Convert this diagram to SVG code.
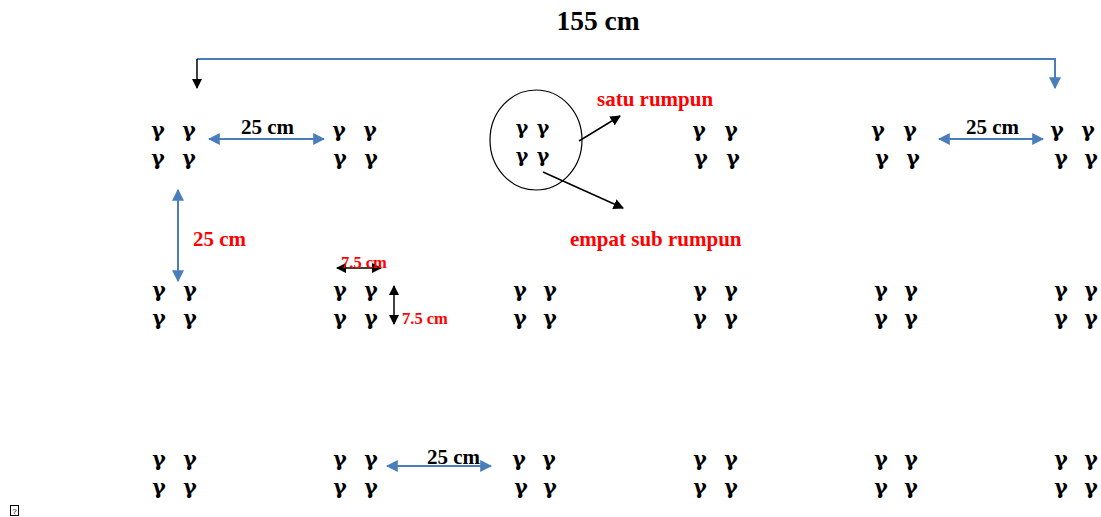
<svg xmlns="http://www.w3.org/2000/svg" width="1101" height="517" viewBox="0 0 1101 517">
<defs>
<style>
.g{font-family:"DejaVu Serif",serif;font-weight:bold;font-size:20.5px;fill:#000;text-anchor:middle}
.gs{font-family:"DejaVu Serif",serif;font-weight:bold;font-size:19px;fill:#000;text-anchor:middle}
.lb{font-family:"Liberation Serif","Times New Roman",serif;font-weight:bold;font-size:21px;fill:#000}
.lr{font-family:"Liberation Serif","Times New Roman",serif;font-weight:bold;font-size:21px;fill:#ff0000}
.ls{font-family:"Liberation Serif","Times New Roman",serif;font-weight:bold;font-size:16.5px;fill:#ff0000}
.blue{stroke:#4A7EBB;stroke-width:2;fill:none}
.blk{stroke:#000;stroke-width:1.5;fill:none}
</style>
<marker id="ab" viewBox="0 0 10 10" refX="9" refY="5" markerWidth="6" markerHeight="6" orient="auto-start-reverse" markerUnits="strokeWidth"><path d="M0,0 L10,5 L0,10 z" fill="#4A7EBB"/></marker>
<marker id="ak" viewBox="0 0 10 10" refX="9" refY="5" markerWidth="7" markerHeight="7" orient="auto-start-reverse" markerUnits="strokeWidth"><path d="M0,0 L10,5 L0,10 z" fill="#000"/></marker>
</defs>
<rect width="1101" height="517" fill="#fff"/>
<text x="598" y="30" class="lb" style="font-size:27.5px" text-anchor="middle">155 cm</text>
<g id="connectors">
<polyline class="blue" points="197,59 1055,59 1055,88" marker-end="url(#ab)"/>
<line class="blk" x1="197" y1="59" x2="197" y2="88" marker-end="url(#ak)"/>
<line class="blue" x1="209" y1="139" x2="324" y2="139" marker-start="url(#ab)" marker-end="url(#ab)"/>
<line class="blue" x1="939" y1="139" x2="1043" y2="139" marker-start="url(#ab)" marker-end="url(#ab)"/>
<line class="blue" x1="178" y1="190" x2="178" y2="281" marker-start="url(#ab)" marker-end="url(#ab)"/>
<line class="blue" x1="387" y1="466" x2="491" y2="466" marker-start="url(#ab)" marker-end="url(#ab)"/>
<line class="blk" x1="337" y1="268" x2="381" y2="268" marker-start="url(#ak)" marker-end="url(#ak)"/>
<line class="blk" x1="394" y1="286" x2="394" y2="324" marker-start="url(#ak)" marker-end="url(#ak)"/>
<line class="blk" x1="579" y1="141" x2="620" y2="116" marker-end="url(#ak)"/>
<line class="blk" x1="543" y1="172" x2="623" y2="208" marker-end="url(#ak)"/>
</g>
<text x="241" y="134" class="lb">25 cm</text>
<text x="966" y="134" class="lb">25 cm</text>
<text x="427" y="464" class="lb">25 cm</text>
<text x="193" y="246" class="lr">25 cm</text>
<text x="341" y="268" class="ls">7.5 cm</text>
<text x="402" y="324" class="ls">7.5 cm</text>
<text x="597" y="106" class="lr">satu rumpun</text>
<text x="570" y="246" class="lr">empat sub rumpun</text>
<g id="c1r1"><text class="g" x="158" y="137">γ</text><text class="g" x="189" y="137">γ</text><text class="g" x="158" y="165">γ</text><text class="g" x="189" y="165">γ</text></g>
<g id="c2r1"><text class="g" x="339" y="137">γ</text><text class="g" x="370" y="137">γ</text><text class="g" x="340" y="165">γ</text><text class="g" x="371" y="165">γ</text></g>
<g id="c3r1"><ellipse cx="536" cy="140" rx="46" ry="50" fill="none" stroke="#000" stroke-width="1.2"/><text class="gs" x="522" y="134">γ</text><text class="gs" x="543" y="134">γ</text><text class="gs" x="522" y="162">γ</text><text class="gs" x="543" y="162">γ</text></g>
<g id="c4r1"><text class="g" x="699" y="137">γ</text><text class="g" x="731" y="137">γ</text><text class="g" x="701" y="165">γ</text><text class="g" x="733" y="165">γ</text></g>
<g id="c5r1"><text class="g" x="878" y="137">γ</text><text class="g" x="910" y="137">γ</text><text class="g" x="882" y="165">γ</text><text class="g" x="913" y="165">γ</text></g>
<g id="c6r1"><text class="g" x="1057" y="137">γ</text><text class="g" x="1088" y="137">γ</text><text class="g" x="1061" y="165">γ</text><text class="g" x="1091" y="165">γ</text></g>
<g id="c1r2"><text class="g" x="159" y="297">γ</text><text class="g" x="190" y="297">γ</text><text class="g" x="159" y="325">γ</text><text class="g" x="190" y="325">γ</text></g>
<g id="c2r2"><text class="g" x="340" y="297">γ</text><text class="g" x="371" y="297">γ</text><text class="g" x="340" y="325">γ</text><text class="g" x="371" y="325">γ</text></g>
<g id="c3r2"><text class="g" x="520" y="297">γ</text><text class="g" x="550" y="297">γ</text><text class="g" x="520" y="325">γ</text><text class="g" x="550" y="325">γ</text></g>
<g id="c4r2"><text class="g" x="700" y="297">γ</text><text class="g" x="731" y="297">γ</text><text class="g" x="700" y="325">γ</text><text class="g" x="731" y="325">γ</text></g>
<g id="c5r2"><text class="g" x="881" y="297">γ</text><text class="g" x="911" y="297">γ</text><text class="g" x="881" y="325">γ</text><text class="g" x="911" y="325">γ</text></g>
<g id="c6r2"><text class="g" x="1061" y="297">γ</text><text class="g" x="1091" y="297">γ</text><text class="g" x="1061" y="325">γ</text><text class="g" x="1091" y="325">γ</text></g>
<g id="c1r3"><text class="g" x="159" y="466">γ</text><text class="g" x="190" y="466">γ</text><text class="g" x="159" y="494">γ</text><text class="g" x="190" y="494">γ</text></g>
<g id="c2r3"><text class="g" x="340" y="466">γ</text><text class="g" x="371" y="466">γ</text><text class="g" x="340" y="494">γ</text><text class="g" x="371" y="494">γ</text></g>
<g id="c3r3"><text class="g" x="519" y="466">γ</text><text class="g" x="549" y="466">γ</text><text class="g" x="521" y="494">γ</text><text class="g" x="550" y="494">γ</text></g>
<g id="c4r3"><text class="g" x="700" y="466">γ</text><text class="g" x="731" y="466">γ</text><text class="g" x="700" y="494">γ</text><text class="g" x="731" y="494">γ</text></g>
<g id="c5r3"><text class="g" x="881" y="466">γ</text><text class="g" x="911" y="466">γ</text><text class="g" x="881" y="494">γ</text><text class="g" x="911" y="494">γ</text></g>
<g id="c6r3"><text class="g" x="1061" y="466">γ</text><text class="g" x="1091" y="466">γ</text><text class="g" x="1061" y="494">γ</text><text class="g" x="1091" y="494">γ</text></g>
<g id="glyph"><rect x="10.5" y="505.5" width="8" height="10" fill="none" stroke="#000" stroke-width="1"/><text x="14.5" y="514" style="font-family:'Liberation Sans',sans-serif;font-size:8px" text-anchor="middle">?</text></g>
</svg>
